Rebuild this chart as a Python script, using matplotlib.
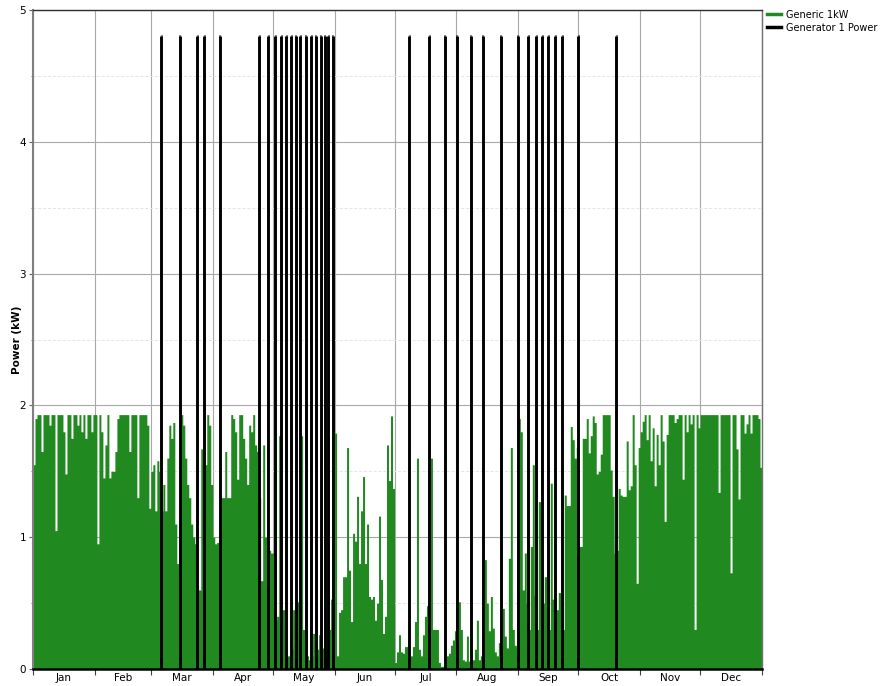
import numpy as np
import matplotlib
matplotlib.use("Agg")
import matplotlib.pyplot as plt
from matplotlib.lines import Line2D

# ---------------- data ----------------
months = ["Jan", "Feb", "Mar", "Apr", "May", "Jun", "Jul", "Aug", "Sep", "Oct", "Nov", "Dec"]
month_days = [31, 28, 31, 30, 31, 30, 31, 31, 30, 31, 30, 31]

# daily peak of the PV output (kW), one list per month
pv_jan = [1.55, 1.9, 1.93, 1.93, 1.65, 1.93, 1.93, 1.93, 1.85, 1.93, 1.93, 1.05, 1.93, 1.93, 1.93, 1.8,
          1.48, 1.93, 1.93, 1.75, 1.93, 1.93, 1.85, 1.93, 1.8, 1.93, 1.75, 1.93, 1.93, 1.8, 1.93]
pv_feb = [1.93, 0.95, 1.93, 1.8, 1.45, 1.7, 1.93, 1.45, 1.5, 1.5, 1.65, 1.9, 1.93, 1.93, 1.93, 1.93,
          1.93, 1.65, 1.93, 1.93, 1.93, 1.3, 1.93, 1.93, 1.93, 1.93, 1.85, 1.22]
pv_mar = [1.5, 1.55, 1.2, 1.58, 1.5, 1.2, 1.4, 1.2, 1.6, 1.85, 1.75, 1.87, 1.1, 0.8, 1.0, 1.93,
          1.85, 1.6, 1.4, 1.3, 1.1, 1.0, 0.95, 0.6, 0.6, 1.67, 0.9, 1.55, 1.93, 1.85, 1.4]
pv_apr = [1.0, 0.95, 0.96, 0.95, 1.3, 1.3, 1.65, 1.3, 1.3, 1.93, 1.9, 1.8, 1.44, 1.93, 1.93, 1.75,
          1.6, 1.4, 1.85, 1.8, 1.93, 1.7, 1.65, 1.3, 0.67, 1.7, 1.0, 0.95, 0.9, 0.88]
pv_may = [0.88, 0.37, 0.4, 1.77, 0.45, 0.45, 0.45, 0.1, 0.1, 0.15, 0.45, 0.2, 0.51, 0.3, 1.77, 0.3,
          0.17, 0.1, 0.07, 0.1, 0.27, 0.2, 0.15, 0.26, 0.15, 0.16, 0.14, 0.15, 0.3, 0.53, 0.5]
pv_jun = [1.79, 0.1, 0.43, 0.45, 0.7, 0.7, 1.68, 0.75, 0.36, 1.03, 0.97, 1.31, 0.8, 1.2, 1.46, 0.8,
          1.1, 0.55, 0.53, 0.55, 0.37, 0.5, 1.16, 0.68, 0.27, 0.4, 1.7, 1.43, 1.92, 1.37]
pv_jul = [0.05, 0.13, 0.26, 0.13, 0.12, 0.17, 0.17, 0.05, 0.1, 0.17, 0.36, 1.6, 0.15, 0.1, 0.26, 0.4,
          0.48, 0.3, 1.6, 0.3, 0.3, 0.3, 0.05, 0.02, 0.02, 0.02, 0.1, 0.12, 0.18, 0.22, 0.29]
pv_aug = [0.2, 0.51, 0.3, 0.07, 0.06, 0.25, 0.06, 0.05, 0.07, 0.15, 0.37, 0.07, 0.1, 0.1, 0.83, 0.5,
          0.29, 0.55, 0.31, 0.13, 0.1, 0.2, 0.1, 0.46, 0.25, 0.16, 0.84, 1.68, 0.3, 0.18, 0.16]
pv_sep = [1.9, 1.8, 0.6, 0.88, 0.5, 0.3, 0.93, 1.55, 0.56, 0.3, 1.27, 1.27, 0.5, 0.7, 0.7, 0.3,
          1.41, 0.53, 0.53, 0.45, 0.58, 0.58, 0.3, 1.32, 1.24, 1.24, 1.84, 1.74, 1.6, 1.68]
pv_oct = [0.93, 0.93, 1.75, 1.75, 1.9, 1.64, 1.77, 1.92, 1.87, 1.48, 1.5, 1.63, 1.93, 1.93, 1.93, 1.93,
          1.51, 1.31, 0.88, 0.9, 1.37, 1.32, 1.31, 1.31, 1.73, 1.36, 1.39, 1.93, 1.55, 0.65, 1.68]
pv_nov = [1.8, 1.88, 1.93, 1.74, 1.93, 1.58, 1.83, 1.39, 1.78, 1.55, 1.93, 1.73, 1.12, 1.78, 1.93, 1.93,
          1.93, 1.87, 1.9, 1.93, 1.93, 1.44, 1.93, 1.8, 1.93, 1.86, 1.93, 0.3, 1.93, 1.83]
pv_dec = [1.93, 1.93, 1.93, 1.93, 1.93, 1.93, 1.93, 1.93, 1.93, 1.34, 1.93, 1.93, 1.93, 1.93, 1.93, 0.73,
          1.93, 1.93, 1.67, 1.29, 1.93, 1.93, 1.79, 1.86, 1.93, 1.79, 1.93, 1.93, 1.93, 1.9, 1.53]

# generator runs: day of year (centre of each run) and output (kW)
gen_days = [64.2, 73.5, 82.2, 85.8, 93.6, 113.3, 117.8, 121.4, 124.4, 126.8, 129.3, 131.5,
            133.9, 136.6, 139.3, 141.5, 144.0, 146.0, 147.9, 150.2, 188.5, 198.3, 206.1,
            212.2, 219.3, 225.2, 234.3, 242.7, 247.9, 252.0, 255.0, 257.9, 261.5, 264.9,
            273.0, 292.1]
gen_kw = 4.8

series_names = ["Generic 1kW", "Generator 1 Power"]
y_label = "Power (kW)"

# ---------------- build ----------------
pv_peaks = np.array(pv_jan + pv_feb + pv_mar + pv_apr + pv_may + pv_jun +
                    pv_jul + pv_aug + pv_sep + pv_oct + pv_nov + pv_dec)
n_days = len(pv_peaks)
day_edges = np.arange(n_days + 1)
pv_step = np.append(pv_peaks, pv_peaks[-1])

month_starts = np.concatenate([[0], np.cumsum(month_days)])
month_mids = (month_starts[:-1] + month_starts[1:]) / 2

GREEN = "#208A20"

fig = plt.figure(figsize=(8.82, 6.86), dpi=100)
ax = fig.add_axes([33 / 882, 17 / 686, 729 / 882, 659 / 686])

ax.fill_between(day_edges, pv_step, 0, step="post", color=GREEN, lw=0, zorder=2)

gd = np.array(gen_days)
ax.vlines(gd, 0, gen_kw, color="black", lw=2.1, zorder=3)
ax.hlines(np.full(len(gd), gen_kw), gd - 0.25, gd + 0.25, color="black", lw=2.1, zorder=3)

ax.set_xlim(0, n_days)
ax.set_ylim(0, 5)

# x axis: ticks at month boundaries, labels at mid-month
ax.set_xticks(month_starts)
ax.set_xticklabels([])
ax.set_xticks(month_mids, minor=True)
ax.set_xticklabels(months, minor=True, fontsize=7.5)
ax.tick_params(axis="x", which="major", length=4, width=0.8, color="#404040", direction="out")
ax.tick_params(axis="x", which="minor", length=0, pad=3)

# y axis
ax.set_yticks([0, 1, 2, 3, 4, 5])
ax.set_yticks(np.arange(0.5, 5, 1.0), minor=True)
ax.tick_params(axis="y", which="major", length=3, width=0.8, color="#606060", labelsize=7.5, pad=2)
ax.tick_params(axis="y", which="minor", length=1.5, width=0.6, color="#606060")
ax.set_ylabel(y_label, fontsize=7.5, fontweight="bold", labelpad=-2)

ax.grid(True, which="major", axis="both", color="#a8a8a8", lw=0.8, zorder=0)
ax.grid(True, which="minor", axis="y", color="#e4e4e4", lw=0.7, ls=(0, (3, 2)), zorder=0)
ax.grid(False, which="minor", axis="x")
ax.set_axisbelow(True)

ax.spines["left"].set_color("#808080")
ax.spines["left"].set_linewidth(1.5)
ax.spines["bottom"].set_color("black")
ax.spines["bottom"].set_linewidth(1.8)
ax.spines["top"].set_color("#303030")
ax.spines["top"].set_linewidth(1.0)
ax.spines["right"].set_color("#707070")
ax.spines["right"].set_linewidth(1.0)

handles = [Line2D([], [], color=GREEN, lw=2.5), Line2D([], [], color="black", lw=2.5)]
fig.legend(handles, series_names, loc="upper left", bbox_to_anchor=(761 / 882, 1 - 4 / 686),
           frameon=False, fontsize=7, handlelength=1.5, handletextpad=0.5, labelspacing=0.3,
           borderaxespad=0.2)

fig.savefig("out.png", dpi=100)
